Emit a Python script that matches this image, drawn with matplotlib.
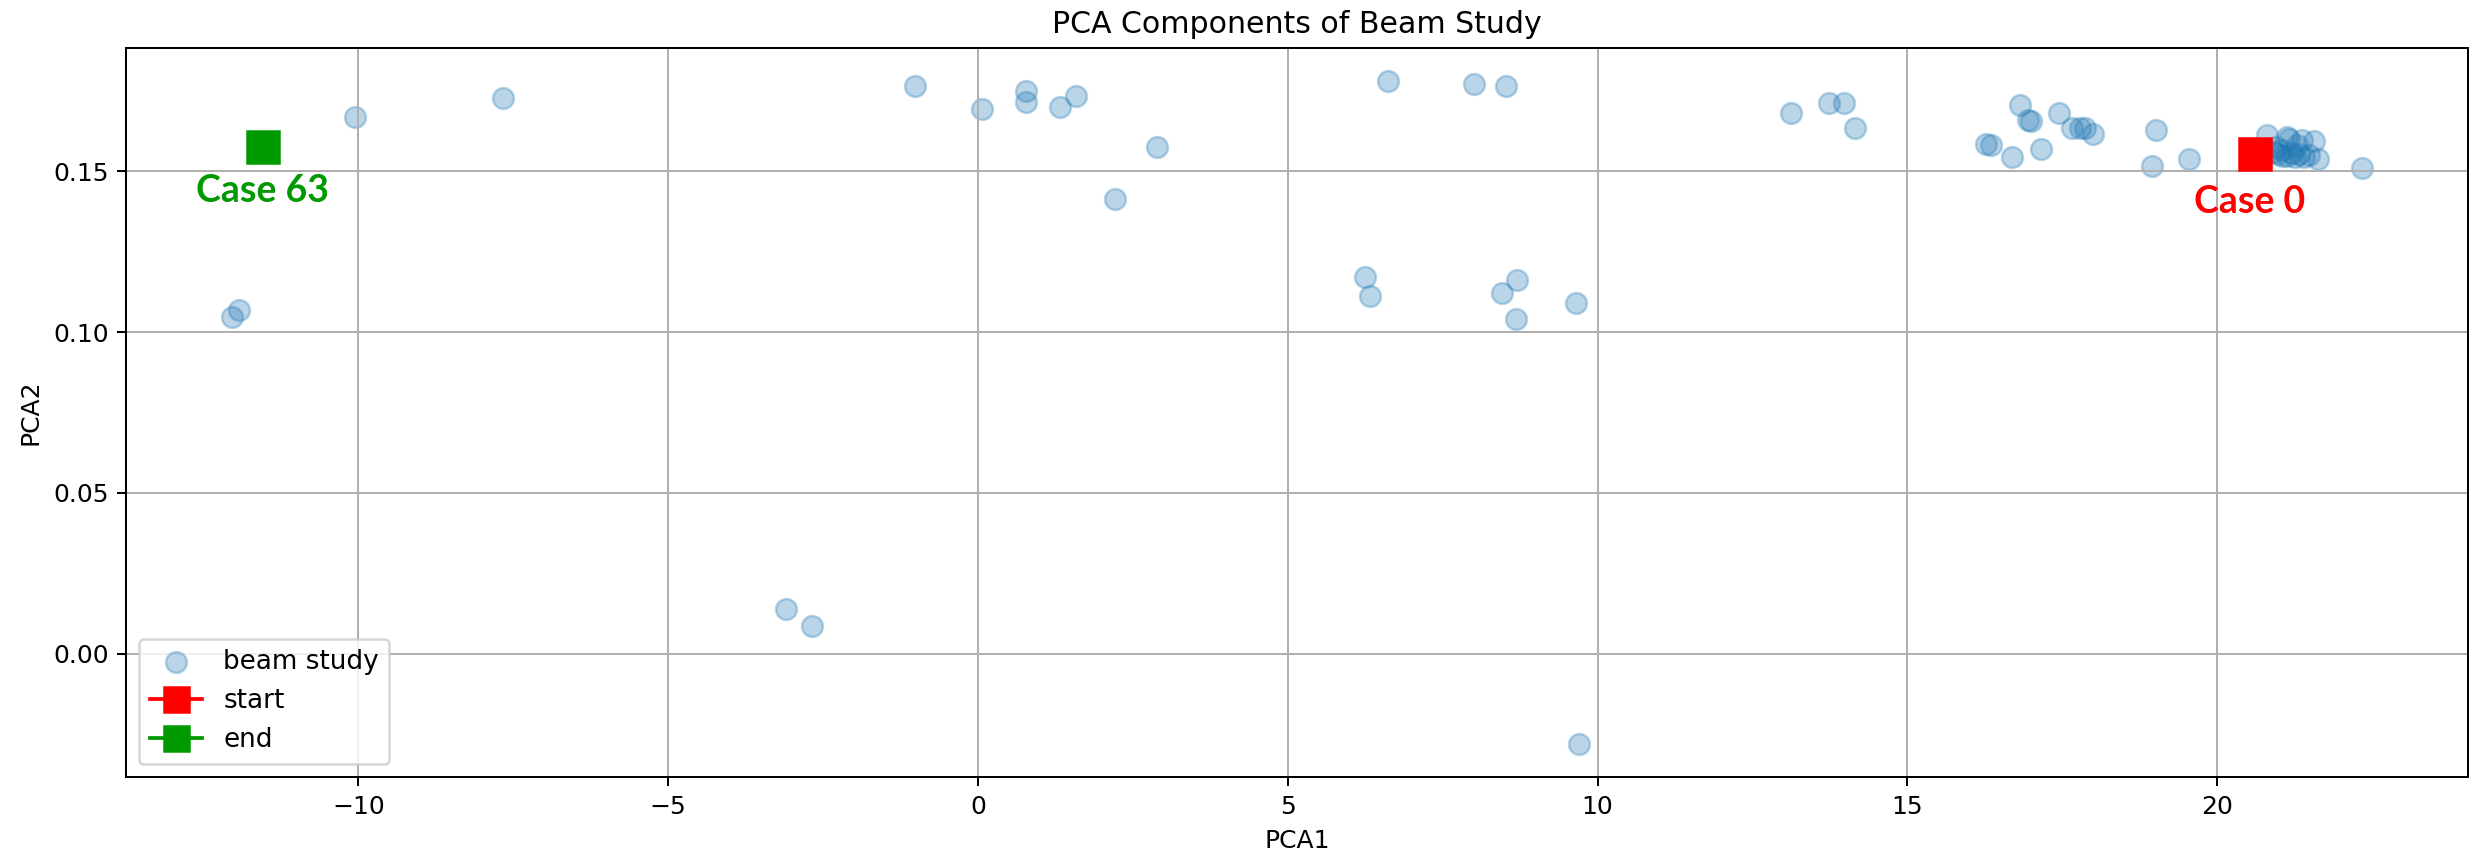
import matplotlib
matplotlib.use("Agg")
import matplotlib.pyplot as plt
from matplotlib.lines import Line2D

# PCA projection of the 64 beam study cases
pca1 = [20.61, 20.80, 20.90, 20.98, 21.05, 21.12, 21.15, 21.12, 21.20, 21.25,
        21.32, 21.37, 21.40, 21.48, 21.56, 21.63, 21.05, 20.95, 21.28,
        22.33, 19.55, 18.94, 19.01, 18.00, 17.87, 17.79, 17.66, 17.45, 17.15,
        17.00, 16.95, 16.81, 16.68, 16.35, 16.27,
        14.16, 13.98, 13.73, 13.12,
        9.70, 9.65, 8.68, 8.70, 8.46, 6.32, 6.24,
        8.52, 8.00, 6.61,
        2.21, 2.89, 1.58, 1.33, 0.78, 0.78, 0.07, -1.02,
        -2.67, -3.09,
        -7.66, -10.06, -11.93, -12.03, -11.54]
pca2 = [0.1552, 0.1612, 0.1560, 0.1552, 0.1565, 0.1607, 0.1600, 0.1548, 0.1555, 0.1545,
        0.1552, 0.1598, 0.1545, 0.1550, 0.1595, 0.1538, 0.1548, 0.1575, 0.1580,
        0.1510, 0.1539, 0.1515, 0.1628, 0.1615, 0.1635, 0.1635, 0.1635, 0.1680, 0.1569,
        0.1656, 0.1658, 0.1706, 0.1545, 0.1580, 0.1583,
        0.1633, 0.1711, 0.1711, 0.1680,
        -0.0280, 0.1090, 0.1042, 0.1161, 0.1120, 0.1113, 0.1172,
        0.1765, 0.1770, 0.1780,
        0.1415, 0.1574, 0.1734, 0.1698, 0.1748, 0.1716, 0.1692, 0.1764,
        0.0085, 0.0138,
        0.1727, 0.1669, 0.1068, 0.1047, 0.1574]

start_idx = 0
end_idx = 63

fig, ax = plt.subplots(figsize=(2476/180, 855/180), dpi=180)
fig.subplots_adjust(left=0.0509, right=0.9968, bottom=0.0912, top=0.9439)

ax.scatter(pca1, pca2, s=70, alpha=0.3, color="C0", label="beam study")
ax.plot(pca1[start_idx], pca2[start_idx], "s-", color="red", ms=13, zorder=3)
ax.plot(pca1[end_idx], pca2[end_idx], "s-", color="#009900", ms=13, zorder=3)

ax.text(pca1[start_idx] - 0.08, pca2[start_idx] - 0.0148, "Case 0", color="red",
        fontsize=15, fontweight="bold", family="Lato", ha="center", va="center")
ax.text(pca1[end_idx], pca2[end_idx] - 0.0137, "Case 63", color="#009900",
        fontsize=15, fontweight="bold", family="Lato", ha="center", va="center")

handles = [ax.collections[0],
           Line2D([], [], marker="s", color="red", ms=10, label="start"),
           Line2D([], [], marker="s", color="#009900", ms=10, label="end")]
ax.legend(handles=handles, loc="lower left", fontsize=10.5)

ax.grid(True)
ax.set_title("PCA Components of Beam Study")
ax.set_xlabel("PCA1")
ax.set_ylabel("PCA2")

fig.savefig("out.png", dpi=180)
